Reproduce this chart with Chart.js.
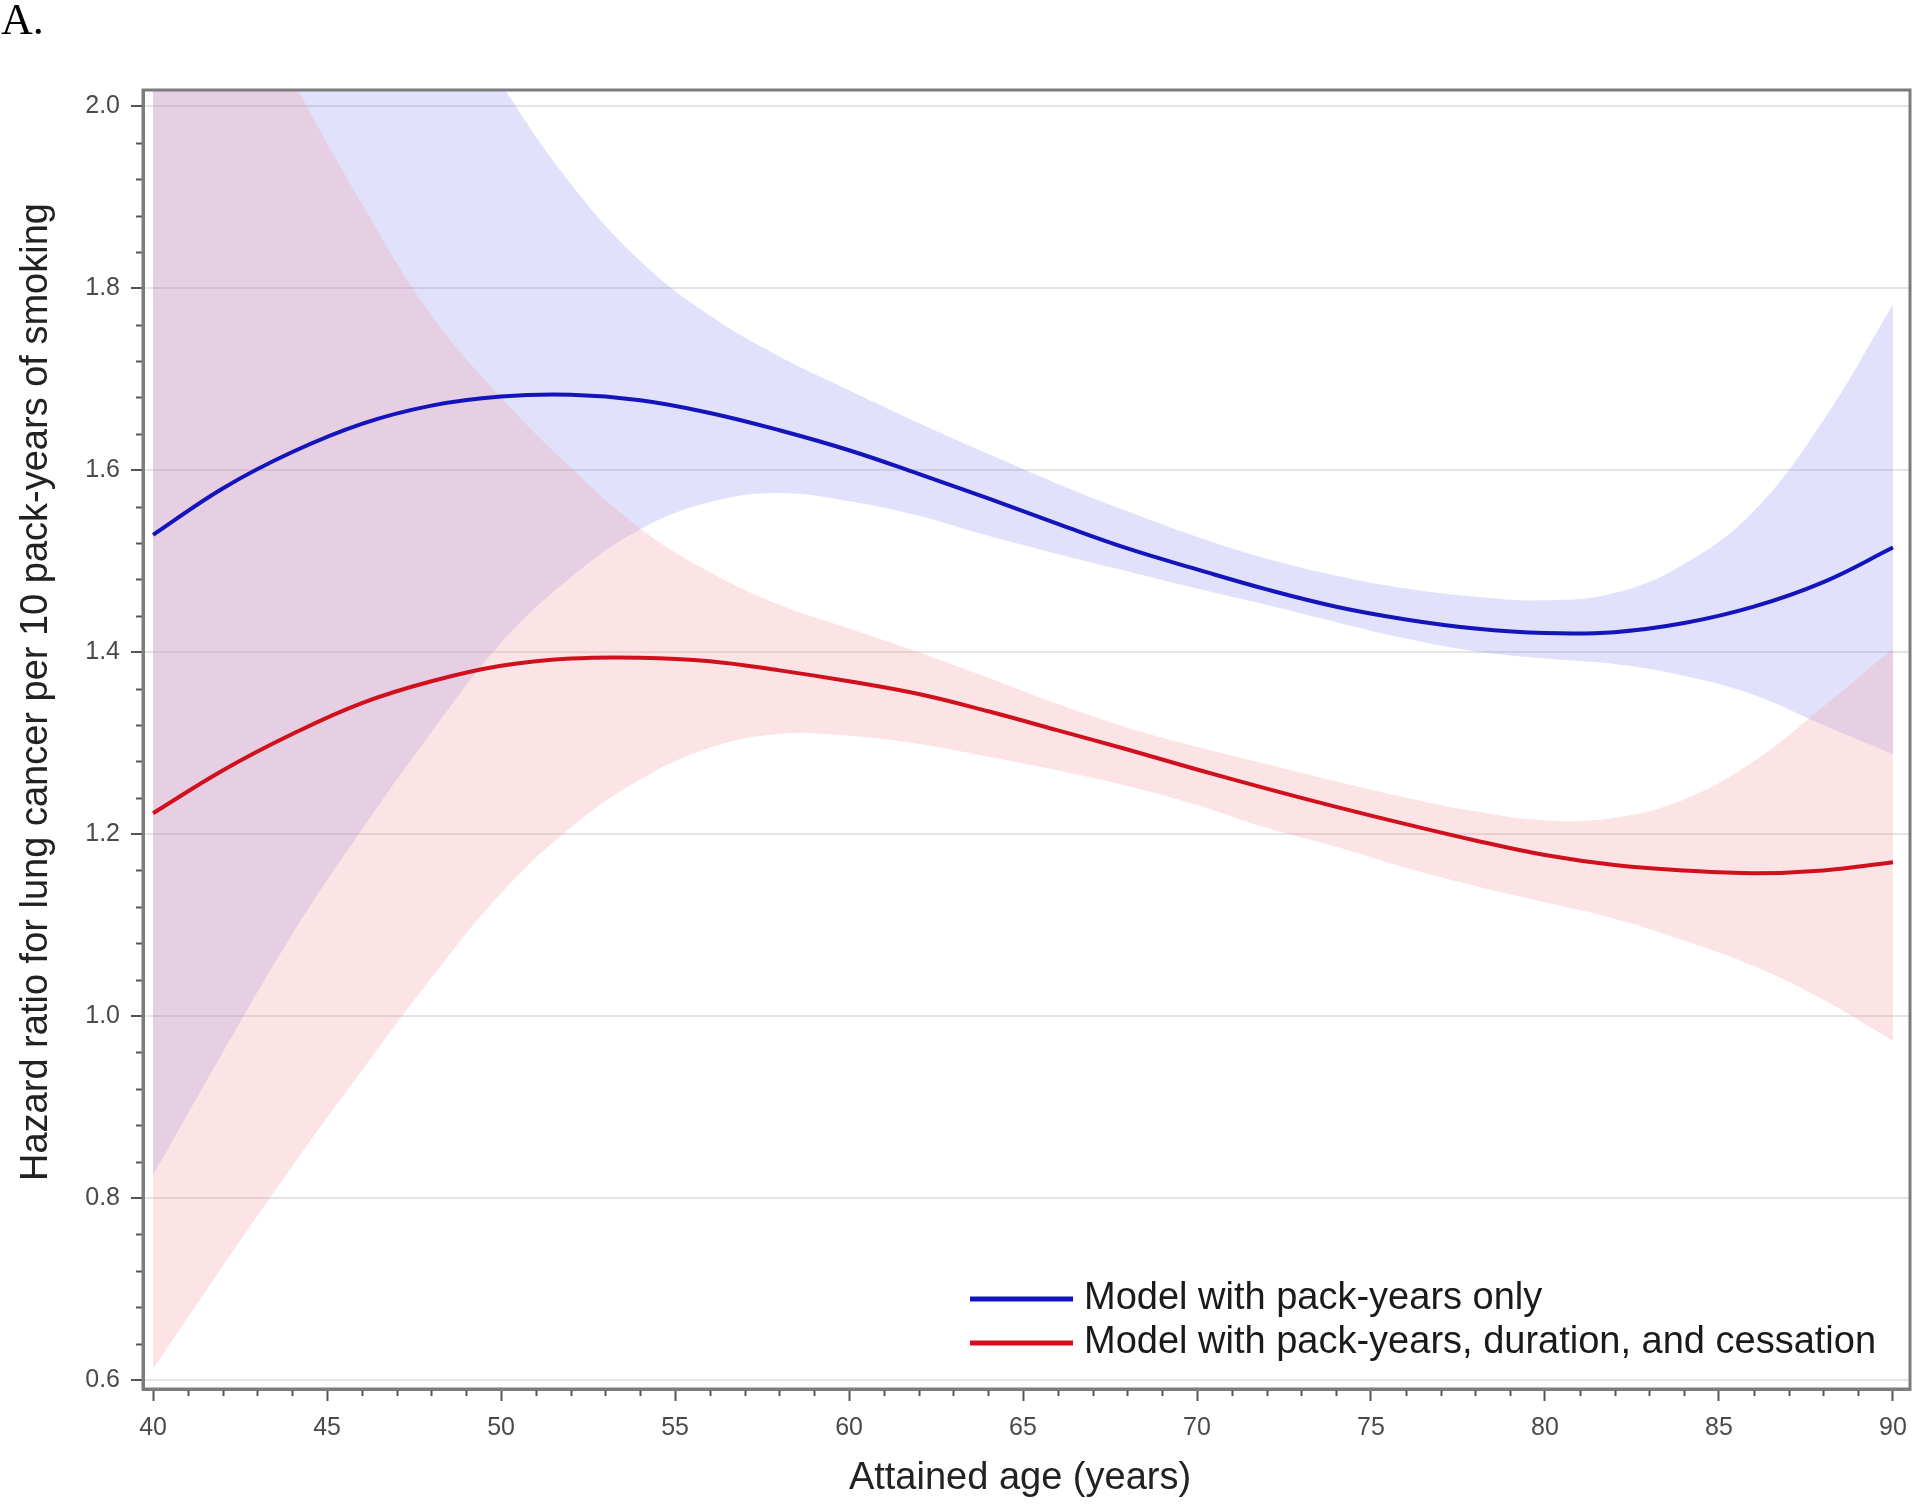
<!DOCTYPE html>
<html>
<head>
<meta charset="utf-8">
<script src="https://cdn.jsdelivr.net/npm/chart.js@4.4.1/dist/chart.umd.min.js"></script>
<style>
  html, body { margin: 0; padding: 0; background: #fff; }
  #wrap { position: relative; width: 1920px; height: 1509px; }
</style>
</head>
<body>
<div id="wrap"><canvas id="grafico"></canvas></div>
<script>
// idade atingida (anos)
const ages = [40, 42, 44, 46, 48, 50, 52, 54, 56, 58, 60, 62, 64, 66, 68, 70, 72, 74, 76, 78, 80, 82, 84, 86, 88, 90];

// modelo so com macos-ano
const blueFit   = [1.529, 1.580, 1.620, 1.651, 1.671, 1.681, 1.683, 1.677, 1.663, 1.644, 1.622, 1.596, 1.569, 1.541, 1.514, 1.491, 1.469, 1.450, 1.436, 1.426, 1.421, 1.422, 1.432, 1.450, 1.477, 1.515];
const blueLower = [0.825, 0.960, 1.090, 1.205, 1.312, 1.410, 1.482, 1.535, 1.565, 1.575, 1.566, 1.550, 1.528, 1.508, 1.489, 1.470, 1.452, 1.433, 1.415, 1.401, 1.393, 1.387, 1.374, 1.353, 1.320, 1.288];
const blueUpper = [2.700, 2.560, 2.420, 2.280, 2.150, 2.025, 1.915, 1.830, 1.770, 1.725, 1.688, 1.652, 1.618, 1.585, 1.555, 1.527, 1.503, 1.484, 1.470, 1.461, 1.457, 1.465, 1.497, 1.555, 1.655, 1.782];

// modelo com macos-ano, duracao e cessacao
const redFit   = [1.223, 1.270, 1.310, 1.344, 1.368, 1.385, 1.393, 1.394, 1.390, 1.380, 1.368, 1.354, 1.335, 1.314, 1.293, 1.271, 1.250, 1.230, 1.211, 1.193, 1.177, 1.166, 1.160, 1.157, 1.160, 1.169];
const redLower = [0.612, 0.725, 0.835, 0.940, 1.042, 1.135, 1.207, 1.260, 1.295, 1.310, 1.308, 1.299, 1.285, 1.270, 1.253, 1.232, 1.207, 1.186, 1.163, 1.143, 1.125, 1.107, 1.083, 1.055, 1.018, 0.973];
const redUpper = [2.340, 2.180, 2.030, 1.893, 1.770, 1.680, 1.603, 1.536, 1.488, 1.452, 1.426, 1.400, 1.372, 1.343, 1.317, 1.296, 1.277, 1.258, 1.240, 1.225, 1.215, 1.218, 1.238, 1.280, 1.340, 1.404];

const xTicks = [40, 45, 50, 55, 60, 65, 70, 75, 80, 85, 90];
const yTicks = [0.6, 0.8, 1.0, 1.2, 1.4, 1.6, 1.8, 2.0];

const seriesLabels = ['Model with pack-years only', 'Model with pack-years, duration, and cessation'];
const seriesColors = ['#1414bc', '#d0101c'];

const pts = (arr) => ages.map((a, i) => ({ x: a, y: arr[i] }));

const FONT = 'Arial, "Liberation Sans", sans-serif';

// moldura, ticks menores, titulos e legenda
const extras = {
  id: 'extras',
  afterDraw(chart) {
    const { ctx, chartArea: ca, scales } = chart;
    const xs = scales.x, ys = scales.y;
    ctx.save();

    // ticks menores
    ctx.strokeStyle = '#555';
    ctx.lineWidth = 2;
    for (let v = 40; v <= 90; v++) {
      if (v % 5 === 0) continue;
      const px = Math.round(xs.getPixelForValue(v)) + 0.5;
      ctx.beginPath();
      ctx.moveTo(px, ca.bottom);
      ctx.lineTo(px, ca.bottom + 7);
      ctx.stroke();
    }
    for (let k = 15; k <= 50; k++) {
      if (k % 5 === 0) continue;
      const py = Math.round(ys.getPixelForValue(k * 0.04)) + 0.5;
      ctx.beginPath();
      ctx.moveTo(ca.left - 7, py);
      ctx.lineTo(ca.left, py);
      ctx.stroke();
    }

    // moldura
    ctx.strokeStyle = '#7c7c7c';
    ctx.lineWidth = 3;
    ctx.strokeRect(ca.left, ca.top, ca.right - ca.left, ca.bottom - ca.top);

    // titulos dos eixos
    ctx.fillStyle = '#222';
    ctx.font = '38px ' + FONT;
    ctx.textAlign = 'center';
    ctx.textBaseline = 'middle';
    ctx.fillText('Attained age (years)', 1020, 1479);
    ctx.save();
    ctx.translate(37, 692);
    ctx.rotate(-Math.PI / 2);
    ctx.fillText('Hazard ratio for lung cancer per 10 pack-years of smoking', 0, 0);
    ctx.restore();

    // legenda
    const rows = [1299, 1343];
    ctx.textAlign = 'left';
    rows.forEach((y, i) => {
      ctx.strokeStyle = seriesColors[i];
      ctx.lineWidth = 5;
      ctx.beginPath();
      ctx.moveTo(970, y);
      ctx.lineTo(1073, y);
      ctx.stroke();
      ctx.fillStyle = '#1a1a1a';
      ctx.fillText(seriesLabels[i], 1084, y);
    });

    // rotulo do painel
    ctx.font = '44px "Liberation Serif", "Times New Roman", serif';
    ctx.textBaseline = 'alphabetic';
    ctx.fillStyle = '#000';
    ctx.fillText('A.', 1, 34);
    ctx.restore();
  }
};

function gerarGrafico() {
  const ctx = document.getElementById('grafico').getContext('2d');
  const banda = { borderWidth: 0, pointRadius: 0, tension: 0.4 };
  return new Chart(ctx, {
    type: 'line',
    data: {
      datasets: [
        { ...banda, data: pts(blueLower), fill: false, order: 6 },
        { ...banda, data: pts(blueUpper), fill: '-1', backgroundColor: 'rgba(120,120,235,0.22)', order: 5 },
        { ...banda, data: pts(redLower), fill: false, order: 4 },
        { ...banda, data: pts(redUpper), fill: '-1', backgroundColor: 'rgba(244,154,161,0.27)', order: 3 },
        { label: seriesLabels[0], data: pts(blueFit), borderColor: seriesColors[0], borderWidth: 4, pointRadius: 0, tension: 0.4, fill: false, order: 2 },
        { label: seriesLabels[1], data: pts(redFit), borderColor: seriesColors[1], borderWidth: 4, pointRadius: 0, tension: 0.4, fill: false, order: 1 },
      ],
    },
    options: {
      responsive: true,
      maintainAspectRatio: false,
      animation: false,
      layout: { padding: { top: 90, right: 10, left: 0, bottom: 0 } },
      plugins: { legend: { display: false }, tooltip: { enabled: false } },
      scales: {
        x: {
          type: 'linear',
          min: 39.71,
          max: 90.49,
          afterBuildTicks: (s) => { s.ticks = xTicks.map((v) => ({ value: v })); },
          afterFit: (s) => { s.height = 120; },
          ticks: { color: '#4a4a4a', font: { family: FONT, size: 25 }, padding: 12, maxRotation: 0, callback: (v) => String(v) },
          grid: { drawOnChartArea: false, drawTicks: true, tickLength: 12, tickColor: '#555', tickWidth: 2 },
          border: { color: '#7c7c7c', width: 3 },
        },
        y: {
          min: 0.59,
          max: 2.018,
          afterBuildTicks: (s) => { s.ticks = yTicks.map((v) => ({ value: v })); },
          afterFit: (s) => { s.width = 143; },
          ticks: { color: '#4a4a4a', font: { family: FONT, size: 25 }, padding: 11, callback: (v) => Number(v).toFixed(1) },
          grid: { color: '#e4e4e4', lineWidth: 2, drawTicks: true, tickLength: 12, tickColor: '#555', tickWidth: 2 },
          border: { color: '#7c7c7c', width: 3 },
        },
      },
    },
    plugins: [extras],
  });
}
gerarGrafico();
</script>
</body>
</html>
